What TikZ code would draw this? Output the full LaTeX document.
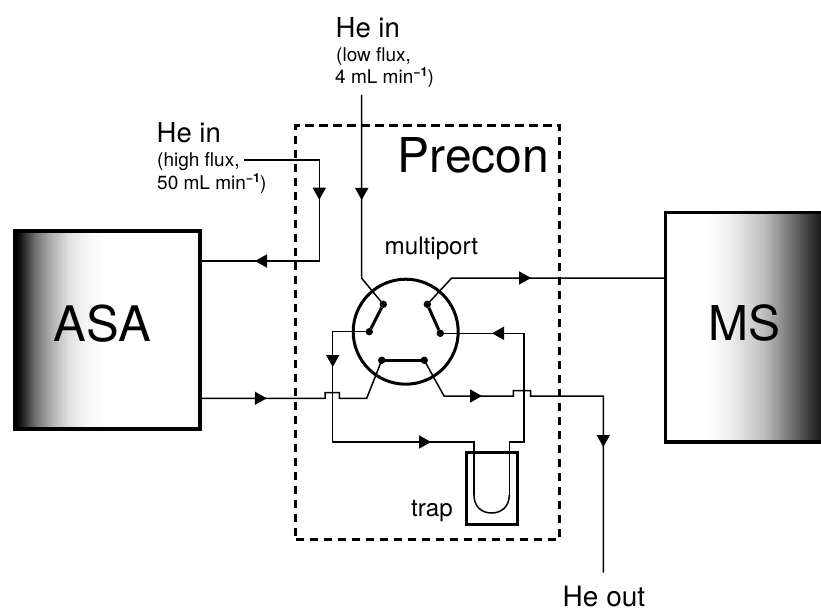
\documentclass[tikz,border=0pt]{standalone}
\usepackage{fontspec}
\setmainfont{TeX Gyre Heros}
\usetikzlibrary{arrows.meta,decorations.markings,calc}
\pgfdeclarehorizontalshading{asashade}{100bp}{color(0bp)=(black); color(25bp)=(black); color(26bp)=(black!95); color(30.5bp)=(black!55); color(35bp)=(black!30); color(39.5bp)=(black!12); color(44bp)=(black!4); color(49bp)=(white); color(100bp)=(white)}
\pgfdeclarehorizontalshading{msshade}{100bp}{color(0bp)=(white); color(38.7bp)=(white); color(46.7bp)=(black!8); color(56.4bp)=(black!25); color(64bp)=(black!50); color(70.5bp)=(black!75); color(75bp)=(black!90); color(100bp)=(black!90)}
\tikzset{
  conn/.style={line width=1.5pt,draw=black,line join=miter},
  tip at/.style={postaction={decorate,decoration={markings,mark=at position #1pt with {\arrow{Triangle[length=12pt,width=13pt]}}}}},
  instrument/.style={shade,outer sep=0pt,inner sep=0pt},
  frameline/.style={line width=3.6pt,draw=black},
  port/.style={circle,fill=black,minimum size=7.4pt,inner sep=0pt,outer sep=0pt},
  link/.style={line width=3pt,draw=black},
  big/.style={anchor=base west,inner sep=0pt,font=\fontsize{48}{48}\selectfont},
  mid/.style={anchor=base west,inner sep=0pt,font=\fontsize{27.5}{27.5}\selectfont},
  lab/.style={anchor=base west,inner sep=0pt,font=\fontsize{24.2}{24.2}\selectfont},
  small/.style={anchor=base west,inner sep=0pt,font=\fontsize{19}{19}\selectfont},
}
\newcommand{\minusone}{\raisebox{7pt}{\fontsize{12.5}{12.5}\selectfont\bfseries −1}}
\begin{document}
\begin{tikzpicture}[x=1pt,y=-1pt]
\useasboundingbox (0,0) rectangle (821,612);
\fill[white] (0,0) rectangle (821,612);
% instruments
\node[instrument,shading=asashade,draw=black,line width=3.6pt,minimum width=184.6pt,minimum height=198pt] (asa) at (107.5,330) {};
\node[instrument,shading=msshade,minimum width=155.5pt,minimum height=229.5pt] (ms) at (743.25,327.25) {};
\draw[frameline] (ms.north east) -- (ms.north west) -- (ms.south west) -- (ms.south east);
\node[big,font=\fontsize{49}{49}\selectfont] (asalabel) at (53.5,341.7) {ASA};
\node[big] (mslabel) at (708,340) {MS};
% precon frame
\node[draw=black,line width=3pt,dash pattern=on 8.5pt off 5.5pt,minimum width=264pt,minimum height=413.8pt,inner sep=0pt,outer sep=0pt] (precon) at (427.8,332.4) {};
\node[big] (preconlabel) at (397.5,173) {Precon};
% trap
\node[draw=black,line width=3pt,minimum width=51pt,minimum height=72pt,inner sep=0pt,outer sep=0pt] (trap) at (492.2,488.3) {};
\node[lab] (traplabel) at (411,516) {trap};
% multiport
\node[circle,draw=black,line width=3pt,minimum size=105pt,inner sep=0pt,outer sep=0pt] (valve) at (405.7,331.7) {};
\node[lab] (valvelabel) at (384.5,254.5) {multiport};
\node[port] (ptl) at (383.3,304.3) {};
\node[port] (pl)  at (369.3,331.7) {};
\node[port] (pbl) at (381.7,360.3) {};
\node[port] (pbr) at (424.3,360.3) {};
\node[port] (pr)  at (440.3,333.3) {};
\node[port] (ptr) at (427.3,304.3) {};
\draw[link] (ptl) -- (pl);
\draw[link] (pbl) -- (pbr);
\draw[link] (ptr) -- (pr);
% free ends
\coordinate (lowin) at (361.7,95);
\coordinate (highin) at (244,160);
\coordinate (heout) at (603.3,572.7);
\coordinate (uL) at (474,495);
\coordinate (uR) at (509.3,495);
\coordinate (uB) at (491.6,513);
% connectors
\draw[conn,tip at=105] (lowin) -- (361.7,278.3) -- (ptl.center);
\draw[conn,tip at=115.2] (ptr.center) -- (451.7,278) -- (ms.west |- 0,278);
\draw[conn,tip at=115,tip at=240.6] (highin) -- (319.3,160) -- (319.3,261) -- (asa.east |- 0,261);
\draw[conn,tip at=71.9,tip at=245.2] (pl.center) -- (332.7,331.7) -- (332.7,442) -- (474,442) -- (uL);
\draw[conn] (uL) .. controls (474,507) and (482,513) .. (uB) .. controls (501,513) and (509.3,507) .. (uR);
\draw[conn,tip at=208.4] (uR) -- (509.3,442) -- (524,442) -- (524,333.3) -- (pr.center);
\draw[conn,tip at=67] (asa.east |- 0,398.3) -- (325,398.3) -- (325,392.7) -- (339.3,392.7) -- (339.3,398.3) -- (366.7,398.3) -- (pbl.center);
\draw[conn,tip at=78.8,tip at=261.7] (pbr.center) -- (444,396) -- (513.3,396) -- (513.3,390.7) -- (530.7,390.7) -- (530.7,396) -- (603.3,396) -- (heout);
% labels
\node[mid] (hein1) at (335.5,38) {He in};
\node[small] (low1) at (336,62) {(low flux,};
\node[small] (low2) at (335,84) {4 mL min\minusone)};
\node[mid] (hein2) at (156.5,143) {He in};
\node[small] (high1) at (157,167) {(high flux,};
\node[small] (high2) at (157,190) {50 mL min\minusone)};
\node[mid,font=\fontsize{28}{28}\selectfont] (heoutlabel) at (562.5,606.7) {He out};
\end{tikzpicture}
\end{document}
